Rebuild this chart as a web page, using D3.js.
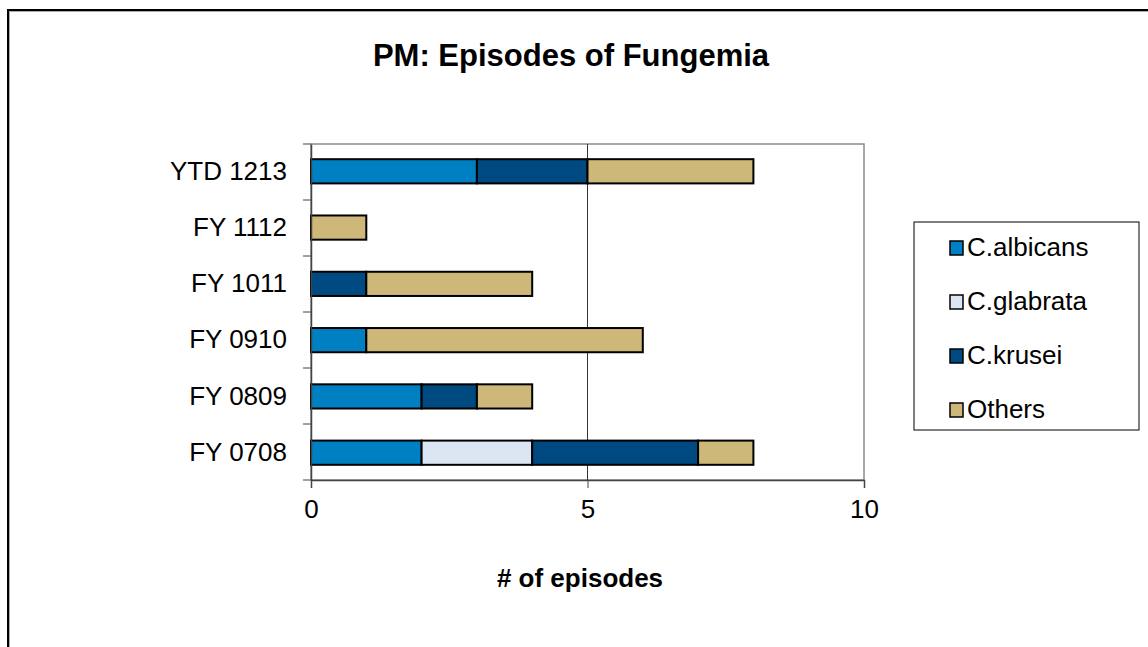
<!DOCTYPE html>
<html>
<head>
<meta charset="utf-8">
<script src="https://cdn.jsdelivr.net/npm/d3@7"></script>
<style>
  body { margin: 0; background: #fff; }
  svg { font-family: 'Liberation Sans', Arial, sans-serif; }
</style>
</head>
<body>
<svg id="chart"></svg>
<script>
const categories = ['YTD 1213', 'FY 1112', 'FY 1011', 'FY 0910', 'FY 0809', 'FY 0708']
const seriesNames = ['C.albicans', 'C.glabrata', 'C.krusei', 'Others']
const albicans = [3, 0, 0, 1, 2, 2]
const glabrata = [0, 0, 0, 0, 0, 2]
const krusei = [2, 0, 1, 0, 1, 3]
const others = [3, 1, 3, 5, 1, 1]
const xTicks = [0, 5, 10]
const colors = ['#0080c3', '#dce6f2', '#004a82', '#cdb879']

const W = 1148, H = 647
const plot = { left: 311, right: 864, top: 144, bottom: 480 }

const svg = d3.select('#chart').attr('width', W).attr('height', H)

// outer frame with a light shadow inside
svg.append('rect')
  .attr('x', 9).attr('y', 11).attr('width', W).attr('height', H)
  .attr('fill', 'none').attr('stroke', '#aaa').attr('stroke-width', 2)
svg.append('rect')
  .attr('x', 8).attr('y', 10).attr('width', W).attr('height', H)
  .attr('fill', 'none').attr('stroke', '#000').attr('stroke-width', 2)

svg.append('text')
  .attr('x', 571).attr('y', 66)
  .attr('text-anchor', 'middle')
  .attr('font-size', 31).attr('font-weight', 'bold')
  .text('PM: Episodes of Fungemia')

const x = d3.scaleLinear().domain([0, 10]).range([plot.left, plot.right])
const y = d3.scaleBand().domain(categories).range([plot.top, plot.bottom]).paddingInner(0.57).paddingOuter(0.27)
const yOuter = d3.scaleBand().domain(categories).range([plot.top, plot.bottom])

const table = categories.map((c, i) => ({
  cat: c,
  'C.albicans': albicans[i],
  'C.glabrata': glabrata[i],
  'C.krusei': krusei[i],
  'Others': others[i]
}))
const stacked = d3.stack().keys(seriesNames)(table)

// plot frame + gridline
svg.append('rect')
  .attr('x', plot.left).attr('y', plot.top)
  .attr('width', plot.right - plot.left).attr('height', plot.bottom - plot.top)
  .attr('fill', 'none').attr('stroke', '#8a8a8a').attr('stroke-width', 1.5)
svg.append('g').selectAll('line')
  .data(xTicks.slice(1, -1))
  .join('line')
    .attr('x1', d => x(d)).attr('x2', d => x(d))
    .attr('y1', plot.top).attr('y2', plot.bottom)
    .attr('stroke', '#333').attr('stroke-width', 1)

svg.append('g').selectAll('g')
  .data(stacked)
  .join('g')
    .attr('fill', (d, i) => colors[i])
  .selectAll('rect')
  .data(d => d.filter(p => p[1] > p[0]))
  .join('rect')
    .attr('x', d => x(d[0]))
    .attr('y', d => y(d.data.cat))
    .attr('width', d => x(d[1]) - x(d[0]))
    .attr('height', y.bandwidth())
    .attr('stroke', '#000').attr('stroke-width', 2)

// axes
const xAxis = svg.append('g')
  .attr('transform', `translate(0,${plot.bottom})`)
  .call(d3.axisBottom(x).tickValues(xTicks).tickSize(8).tickPadding(12))
xAxis.select('.domain').attr('stroke', '#444').attr('stroke-width', 1.5)
xAxis.selectAll('.tick line').attr('stroke', '#444')
xAxis.selectAll('text').attr('font-size', 26).attr('fill', '#000')

const yAxis = svg.append('g')
  .attr('transform', `translate(${plot.left},0)`)
  .call(d3.axisLeft(y).tickSize(0).tickPadding(24))
yAxis.select('.domain').attr('stroke', '#444').attr('stroke-width', 1.5)
yAxis.selectAll('text').attr('font-size', 26).attr('fill', '#000')
svg.append('g').selectAll('line')
  .data(categories.map(c => yOuter(c)).concat([plot.bottom]))
  .join('line')
    .attr('x1', plot.left - 8).attr('x2', plot.left)
    .attr('y1', d => d).attr('y2', d => d)
    .attr('stroke', '#444')

svg.append('text')
  .attr('x', 580).attr('y', 587)
  .attr('text-anchor', 'middle')
  .attr('font-size', 26).attr('font-weight', 'bold')
  .text('# of episodes')

// legend
const legend = svg.append('g')
legend.append('rect')
  .attr('x', 914).attr('y', 222).attr('width', 225).attr('height', 208)
  .attr('fill', '#fff').attr('stroke', '#000').attr('stroke-width', 1)
const item = legend.selectAll('g.item')
  .data(seriesNames)
  .join('g')
    .attr('class', 'item')
    .attr('transform', (d, i) => `translate(950,${256 + i * 54})`)
item.append('rect')
  .attr('x', 0).attr('y', -15).attr('width', 13).attr('height', 14)
  .attr('fill', (d, i) => colors[i]).attr('stroke', '#000').attr('stroke-width', 1.5)
item.append('text')
  .attr('x', 17).attr('y', 0)
  .attr('font-size', 26)
  .text(d => d)
</script>
</body>
</html>
